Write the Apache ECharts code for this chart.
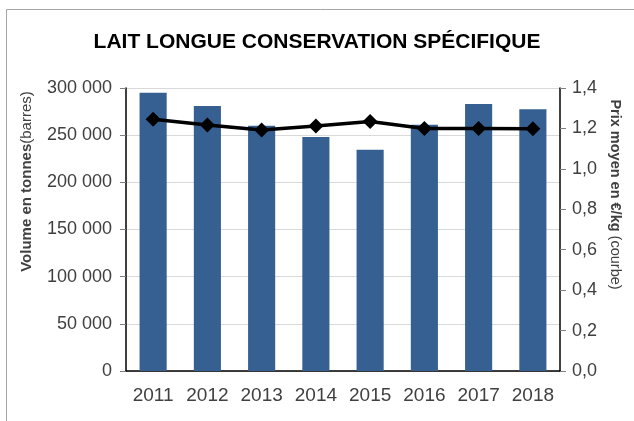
<!DOCTYPE html>
<html>
<head>
<meta charset="utf-8">
<script src="https://cdn.jsdelivr.net/npm/echarts@6/dist/echarts.min.js"></script>
<style>
    html, body { margin: 0; padding: 0; background: #fff; }
    #chart { width: 634px; height: 421px; }
</style>
</head>
<body>
<div id="chart"></div>
<script>
// Chart data
var years = ['2011', '2012', '2013', '2014', '2015', '2016', '2017', '2018'];
var volumes = [295000, 281000, 260000, 248000, 234500, 261000, 283000, 277500];
var prices = [1.245, 1.217, 1.192, 1.212, 1.234, 1.200, 1.200, 1.198];

// Formatters
var formatVolume = function(v) {
    return String(v).replace(/\B(?=(\d{3})+(?!\d))/g, ' ');
};
var formatPrice = function(v) {
    return v.toFixed(1).replace('.', ',');
};

var chart = echarts.init(document.getElementById('chart'), null, { renderer: 'canvas' });

var options = {
    animation: false,
    textStyle: {
        fontFamily: 'Liberation Sans, Arial, sans-serif'
    },

    // Outer frame
    graphic: [{
        type: 'rect',
        left: 4,
        top: 7,
        shape: { width: 700, height: 500 },
        style: { fill: 'none', stroke: '#a6a6a6', lineWidth: 1 },
        silent: true
    }],

    title: {
        text: 'LAIT LONGUE CONSERVATION SPÉCIFIQUE',
        left: 'center',
        top: 27,
        textStyle: {
            fontSize: 21,
            fontWeight: 'bold',
            color: '#000'
        }
    },

    grid: {
        left: 126,
        right: 74,
        top: 88,
        bottom: 50
    },

    xAxis: {
        type: 'category',
        data: years,
        axisLine: { lineStyle: { color: '#000', width: 1.5 } },
        axisTick: { length: 6, lineStyle: { color: '#595959' } },
        axisLabel: { interval: 0, fontSize: 19, color: '#404040', margin: 15 }
    },

    yAxis: [
        {
            type: 'value',
            min: 0,
            max: 300000,
            interval: 50000,
            name: '{b|Volume en tonnes}{n|(barres)}',
            nameLocation: 'middle',
            nameGap: 92,
            nameTextStyle: {
                padding: [0, 0, 0, 96],
                rich: {
                    b: { fontSize: 15, fontWeight: 'bold', color: '#404040' },
                    n: { fontSize: 15, color: '#404040' }
                }
            },
            axisLine: { show: true, lineStyle: { color: '#000', width: 1.5 } },
            axisTick: { show: true, length: 6, lineStyle: { color: '#7f7f7f' } },
            axisLabel: {
                fontSize: 18,
                color: '#404040',
                margin: 14,
                formatter: formatVolume
            },
            splitLine: { lineStyle: { color: '#d9d9d9' } }
        },
        {
            type: 'value',
            min: 0,
            max: 1.4,
            interval: 0.2,
            position: 'right',
            name: '{b|Prix moyen en €/kg}{n| (courbe)}',
            nameLocation: 'middle',
            nameGap: 46,
            nameRotate: -90,
            nameTextStyle: {
                padding: [0, 70, 0, 0],
                rich: {
                    b: { fontSize: 14.5, fontWeight: 'bold', color: '#404040' },
                    n: { fontSize: 14.5, color: '#404040' }
                }
            },
            axisLine: { show: true, lineStyle: { color: '#000', width: 1.5 } },
            axisTick: { show: true, length: 6, lineStyle: { color: '#7f7f7f' } },
            axisLabel: {
                fontSize: 18,
                color: '#404040',
                margin: 12,
                formatter: formatPrice
            },
            splitLine: { show: false }
        }
    ],

    series: [
        {
            name: 'Volume',
            type: 'bar',
            yAxisIndex: 0,
            barWidth: '50%',
            itemStyle: { color: '#376092' },
            data: volumes
        },
        {
            name: 'Prix',
            type: 'line',
            yAxisIndex: 1,
            symbol: 'diamond',
            symbolSize: 15,
            lineStyle: { color: '#000', width: 3.5 },
            itemStyle: { color: '#000' },
            data: prices
        }
    ]
};

chart.setOption(options);
</script>
</body>
</html>
